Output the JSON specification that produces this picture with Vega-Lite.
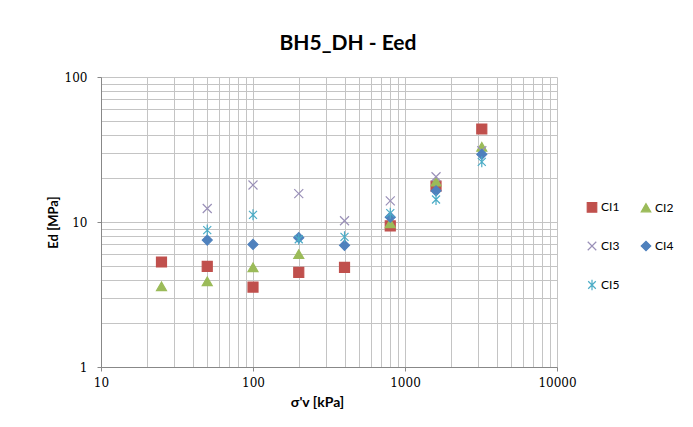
{
  "$schema": "https://vega.github.io/schema/vega-lite/v6.json",
  "width": 456,
  "height": 290,
  "autosize": "none",
  "padding": {"left": 101, "top": 77, "right": 136, "bottom": 60},
  "background": "white",
  "title": {
    "text": "BH5_DH - Eed",
    "font": "Lato",
    "fontSize": 21,
    "fontWeight": "bold",
    "color": "#000000",
    "anchor": "middle",
    "dx": 19,
    "offset": 17
  },
  "data": {
    "values": [
      {"s": "CI1", "x": 25, "y": 5.3},
      {"s": "CI1", "x": 50, "y": 4.95},
      {"s": "CI1", "x": 100, "y": 3.56},
      {"s": "CI1", "x": 200, "y": 4.5},
      {"s": "CI1", "x": 400, "y": 4.87},
      {"s": "CI1", "x": 800, "y": 9.4},
      {"s": "CI1", "x": 1600, "y": 17.7},
      {"s": "CI1", "x": 3200, "y": 43.8},
      {"s": "CI2", "x": 25, "y": 3.6},
      {"s": "CI2", "x": 50, "y": 3.9},
      {"s": "CI2", "x": 100, "y": 4.87},
      {"s": "CI2", "x": 200, "y": 6.0},
      {"s": "CI2", "x": 800, "y": 9.8},
      {"s": "CI2", "x": 1600, "y": 19},
      {"s": "CI2", "x": 3200, "y": 33},
      {"s": "CI3", "x": 50, "y": 12.4},
      {"s": "CI3", "x": 100, "y": 18},
      {"s": "CI3", "x": 200, "y": 15.7},
      {"s": "CI3", "x": 400, "y": 10.2},
      {"s": "CI3", "x": 800, "y": 14},
      {"s": "CI3", "x": 1600, "y": 20.5},
      {"s": "CI3", "x": 3200, "y": 31},
      {"s": "CI4", "x": 50, "y": 7.5},
      {"s": "CI4", "x": 100, "y": 7.0},
      {"s": "CI4", "x": 200, "y": 7.8},
      {"s": "CI4", "x": 400, "y": 6.9},
      {"s": "CI4", "x": 800, "y": 10.8},
      {"s": "CI4", "x": 1600, "y": 16.4},
      {"s": "CI4", "x": 3200, "y": 29.3},
      {"s": "CI5", "x": 50, "y": 8.8},
      {"s": "CI5", "x": 100, "y": 11.2},
      {"s": "CI5", "x": 200, "y": 7.6},
      {"s": "CI5", "x": 400, "y": 7.9},
      {"s": "CI5", "x": 800, "y": 11.5},
      {"s": "CI5", "x": 1600, "y": 14.3},
      {"s": "CI5", "x": 3200, "y": 26}
    ]
  },
  "mark": {"type": "point", "filled": true, "opacity": 1, "strokeWidth": 1.2, "size": 100},
  "encoding": {
    "x": {
      "field": "x",
      "type": "quantitative",
      "scale": {"type": "log", "domain": [10, 10000], "nice": false},
      "axis": {
        "title": "σ'v [kPa]",
        "titleFont": "Lato",
        "titleFontSize": 14,
        "titleFontWeight": "bold",
        "titleColor": "#000000",
        "titleX": 216,
        "titleY": 35,
        "titleBaseline": "middle",
        "values": [10,20,30,40,50,60,70,80,90,100,200,300,400,500,600,700,800,900,1000,2000,3000,4000,5000,6000,7000,8000,9000,10000],
        "labelExpr": "indexof([10,100,1000,10000], datum.value) >= 0 ? format(datum.value, 'd') : ''",
        "labelFont": "DejaVu Serif",
        "labelFontSize": 12,
        "labelColor": "#000000",
        "labelPadding": 6,
        "labelFlush": false,
        "labelOverlap": false,
        "tickSize": 4,
        "tickColor": "#888888",
        "tickOpacity": {"condition": {"test": "indexof([10,100,1000,10000], datum.value) >= 0", "value": 1}, "value": 0},
        "domainColor": "#888888",
        "gridColor": "#C4C4C4",
        "grid": true
      }
    },
    "y": {
      "field": "y",
      "type": "quantitative",
      "scale": {"type": "log", "domain": [1, 100], "nice": false},
      "axis": {
        "title": "Ed [MPa]",
        "titleFont": "Lato",
        "titleFontSize": 13,
        "titleFontWeight": "bold",
        "titleColor": "#000000",
        "titleX": -48,
        "titleY": 145,
        "titleAlign": "center",
        "titleBaseline": "middle",
        "values": [1,2,3,4,5,6,7,8,9,10,20,30,40,50,60,70,80,90,100],
        "labelExpr": "indexof([1,10,100], datum.value) >= 0 ? format(datum.value, 'd') : ''",
        "labelFont": "DejaVu Serif",
        "labelFontSize": 12,
        "labelColor": "#000000",
        "labelPadding": 10,
        "labelFlush": false,
        "labelOverlap": false,
        "tickSize": 4,
        "tickColor": "#888888",
        "tickOpacity": {"condition": {"test": "indexof([1,10,100], datum.value) >= 0", "value": 1}, "value": 0},
        "domainColor": "#888888",
        "gridColor": "#C4C4C4",
        "grid": true
      }
    },
    "color": {
      "field": "s",
      "type": "nominal",
      "scale": {"domain": ["CI1","CI2","CI3","CI4","CI5"], "range": ["#C0504D","#9BBB59","#9A90B8","#4F81BD","#4BACC6"]},
      "legend": {
        "title": null,
        "orient": "none",
        "legendX": 485,
        "legendY": 124,
        "columns": 2,
        "direction": "horizontal",
        "columnPadding": 18,
        "rowPadding": 23,
        "symbolSize": 90,
        "symbolStrokeWidth": 1.2,
        "labelFont": "Lato",
        "labelFontSize": 12,
        "labelColor": "#000000",
        "labelOffset": 3,
        "gridAlign": "all"
      }
    },
    "stroke": {
      "field": "s",
      "type": "nominal",
      "scale": {"domain": ["CI1","CI2","CI3","CI4","CI5"], "range": ["#C0504D","#9BBB59","#9A90B8","#4F81BD","#4BACC6"]},
      "legend": null
    },
    "shape": {
      "field": "s",
      "type": "nominal",
      "scale": {"domain": ["CI1","CI2","CI3","CI4","CI5"], "range": ["square","triangle-up","M-0.9,-0.9L0.9,0.9M-0.9,0.9L0.9,-0.9","diamond","M-0.8,-0.8L0.8,0.8M-0.8,0.8L0.8,-0.8M0,-1.1L0,1.1"]},
      "legend": null
    },
    "order": {"field": "s"}
  },
  "config": {
    "view": {"stroke": null}
  }
}
